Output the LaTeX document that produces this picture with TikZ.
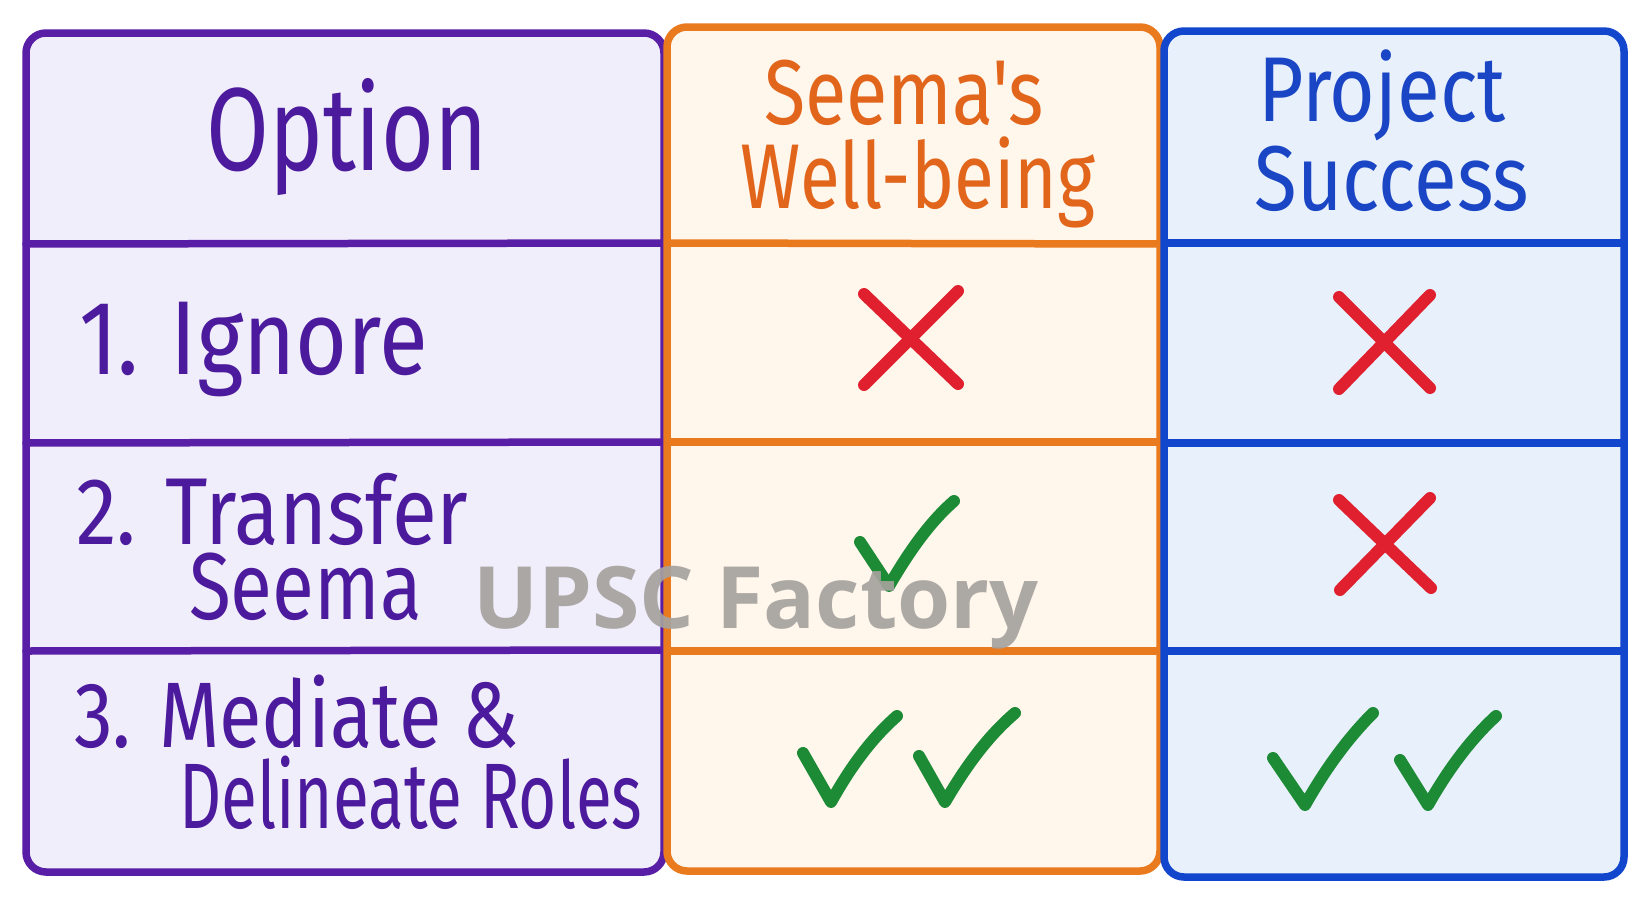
\documentclass[tikz,border=0pt]{standalone}
\usepackage{fontspec}
\setmainfont{Fira Sans}
\newfontfamily\hand{Fira Sans}[FakeStretch=0.72]
\newfontfamily\wmfont{Open Sans}
\definecolor{pstroke}{RGB}{88,30,165}
\definecolor{ptext}{RGB}{76,26,156}
\definecolor{pfill}{RGB}{241,238,251}
\definecolor{ostroke}{RGB}{234,122,30}
\definecolor{otext}{RGB}{226,101,28}
\definecolor{ofill}{RGB}{255,246,236}
\definecolor{bstroke}{RGB}{18,70,204}
\definecolor{btext}{RGB}{26,69,196}
\definecolor{bfill}{RGB}{231,240,251}
\definecolor{xred}{RGB}{224,32,46}
\definecolor{cgreen}{RGB}{29,138,54}
\definecolor{wmgray}{RGB}{166,162,158}
\begin{document}
\begin{tikzpicture}[x=1pt,y=-1pt,
  border/.style={line width=7.5pt,rounded corners=20pt},
  rule/.style={line width=7.5pt,line cap=round},
  crossmark/.style={xred,line width=12pt,line cap=round},
  checkmark/.style={cgreen,line width=12pt,line cap=round,line join=round},
  headtxt/.style={font=\hand\fontsize{92}{96}\selectfont,inner sep=0pt,anchor=base},
  rowtxt/.style={font=\hand\fontsize{95}{98}\selectfont,inner sep=0pt,anchor=base west,text=ptext}]
\useasboundingbox (0,0) rectangle (1650,900);
\fill[white] (0,0) rectangle (1650,900);
% column fills
\fill[pfill,rounded corners=20pt] (26,33) rectangle (664,872);
\fill[ofill,rounded corners=20pt] (667,27) rectangle (1160,871);
\fill[bfill,rounded corners=20pt] (1164,31) rectangle (1624,877);
% row rules
\draw[rule,pstroke] (26,244) -- (664,243);
\draw[rule,pstroke] (26,443) -- (664,442);
\draw[rule,pstroke] (26,651) -- (664,650);
\draw[rule,ostroke] (667,243) -- (1160,244);
\draw[rule,ostroke] (667,442) -- (1160,442);
\draw[rule,ostroke] (667,651) -- (1160,651);
\draw[rule,bstroke] (1164,243) -- (1624,243);
\draw[rule,bstroke] (1164,443) -- (1624,443);
\draw[rule,bstroke] (1164,651) -- (1624,651);
% column borders
\draw[border,pstroke] (26,33) rectangle (664,872);
\draw[border,ostroke] (667,27) rectangle (1160,871);
\draw[border,bstroke] (1164,31) rectangle (1624,877);
% headers
\node[headtxt,text=ptext,font=\hand\fontsize{118}{120}\selectfont] (hopt) at (347,170) {\scalebox{1.07}[1]{Option}};
\node[headtxt,text=otext] (hs1) at (904,124) {\scalebox{1.14}[1]{Seema's}};
\node[headtxt,text=otext] (hs2) at (918,208) {\scalebox{1.1}[1]{Well-being}};
\node[headtxt,text=btext] (hp1) at (1382,121) {\scalebox{1.18}[1]{Project}};
\node[headtxt,text=btext] (hp2) at (1392,210) {\scalebox{1.18}[1]{Success}};
% row labels
\node[rowtxt,font=\hand\fontsize{105}{108}\selectfont] (r1) at (79,374) {\scalebox{1.18}[1]{1. Ignore}};
\node[rowtxt] (r2a) at (76,544) {\scalebox{1.2}[1]{2. Transfer}};
\node[rowtxt] (r2b) at (189,619) {\scalebox{1.12}[1]{Seema}};
\node[rowtxt,font=\hand\fontsize{93}{96}\selectfont] (r3a) at (74,747) {\scalebox{1.16}[1]{3. Mediate \&}};
\node[rowtxt,font=\hand\fontsize{93}{96}\selectfont] (r3b) at (179,828) {\scalebox{0.98}[1]{Delineate Roles}};
% row 1 marks
\draw[crossmark] (864,294) -- (958,384);
\draw[crossmark] (958,291) -- (864,385);
\draw[crossmark] (1339,297) -- (1430,388);
\draw[crossmark] (1430,295) -- (1339,389);
% row 2 marks
\draw[checkmark] (860,542) -- (889,586) .. controls (910,550) and (930,522) .. (954,501);
\draw[crossmark] (1339,500) -- (1431,588);
\draw[crossmark] (1430,498) -- (1340,590);
% row 3 marks
\draw[checkmark] (803,753) -- (831,802) .. controls (851,766) and (872,738) .. (897,716);
\draw[checkmark] (919,756) -- (945,802) .. controls (966,766) and (988,736) .. (1015,713);
\draw[checkmark] (1273,758) -- (1305,805) .. controls (1326,768) and (1348,738) .. (1373,713);
\draw[checkmark] (1400,760) -- (1428,805) .. controls (1449,768) and (1471,739) .. (1496,716);
% watermark
\node[font=\wmfont\bfseries\fontsize{86}{90}\selectfont,text=wmgray,opacity=0.92,inner sep=0pt,anchor=base] (wm) at (756,628) {UPSC Factory};
\end{tikzpicture}
\end{document}
